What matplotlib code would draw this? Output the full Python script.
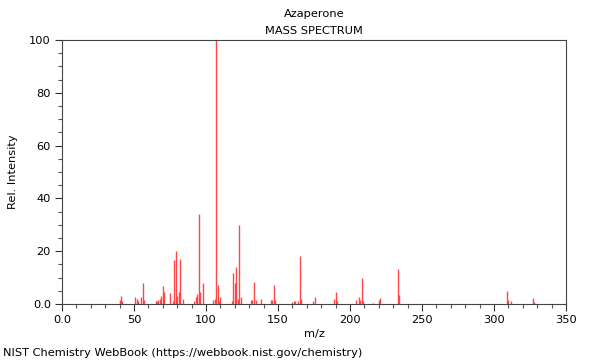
import numpy as np
import matplotlib.pyplot as plt
from matplotlib.ticker import MultipleLocator, FixedFormatter, FixedLocator

# Peaks
mz = [40, 41, 42, 51, 52, 53, 55, 56, 57, 65, 66, 67, 68, 69, 70, 71, 75, 77,
      78, 79, 80, 81, 82, 84, 92, 93, 94, 95, 96, 98, 105, 106, 107, 108, 109,
      110, 118, 119, 120, 121, 122, 123, 124, 131, 132, 133, 135, 138, 145,
      146, 147, 148, 160, 161, 162, 164, 165, 166, 174, 176, 189, 190, 191,
      204, 206, 207, 208, 209, 216, 220, 221, 233, 234, 309, 310, 312, 327, 328]
intensity = [1.5, 3.0, 1.0, 2.5, 2.0, 1.0, 2.8, 7.8, 1.5, 1.0, 1.0, 1.5, 2.0,
             3.0, 6.8, 4.7, 4.3, 1.0, 16.7, 20.2, 3.0, 4.5, 17.0, 2.0, 1.0,
             2.5, 3.8, 34.0, 4.5, 7.8, 1.5, 2.0, 100.0, 7.2, 1.0, 2.5, 1.2,
             11.6, 8.0, 14.1, 2.0, 29.9, 2.5, 1.5, 1.5, 8.2, 1.5, 2.0, 1.5,
             1.5, 7.2, 1.5, 0.7, 1.0, 1.0, 1.0, 18.2, 2.0, 1.2, 2.5, 1.8, 4.5,
             1.0, 1.5, 2.5, 1.5, 9.7, 1.0, 0.5, 1.5, 2.3, 13.3, 3.3, 5.0, 1.5,
             1.0, 2.2, 0.8]

x_ticks = [0, 50, 100, 150, 200, 250, 300, 350]
x_labels = ['0.0', '50', '100', '150', '200', '250', '300', '350']
y_ticks = [0, 20, 40, 60, 80, 100]
y_labels = ['0.0', '20', '40', '60', '80', '100']

fs = 8.2

fig = plt.figure(figsize=(6, 3.6), dpi=100)
ax = fig.add_axes([62 / 600, 56 / 360, 504 / 600, 264 / 360])

ax.vlines(mz, 0, intensity, colors='#ff3333', linewidth=1.0, alpha=0.9)

ax.set_xlim(0, 350)
ax.set_ylim(0, 100)
ax.xaxis.set_major_locator(FixedLocator(x_ticks))
ax.xaxis.set_major_formatter(FixedFormatter(x_labels))
ax.xaxis.set_minor_locator(MultipleLocator(10))
ax.yaxis.set_major_locator(FixedLocator(y_ticks))
ax.yaxis.set_major_formatter(FixedFormatter(y_labels))
ax.yaxis.set_minor_locator(MultipleLocator(5))
ax.tick_params(which='major', length=5, width=0.8, labelsize=fs, colors='#333333',
               labelcolor='black', pad=3)
ax.tick_params(which='minor', length=3, width=0.8, colors='#555555')
for s in ax.spines.values():
    s.set_color('#444444')
    s.set_linewidth(0.8)

ax.set_xlabel('m/z', fontsize=fs, labelpad=3)
ax.set_ylabel('Rel. Intensity', fontsize=fs, labelpad=8)

fig.text(314 / 600, 1 - 14 / 360, 'Azaperone', ha='center', va='center', fontsize=fs)
fig.text(314 / 600, 1 - 31 / 360, 'MASS SPECTRUM', ha='center', va='center', fontsize=fs)
fig.text(3 / 600, 1 - 353 / 360, 'NIST Chemistry WebBook (https://webbook.nist.gov/chemistry)',
         ha='left', va='center', fontsize=fs)

fig.savefig('out.png', dpi=100)
